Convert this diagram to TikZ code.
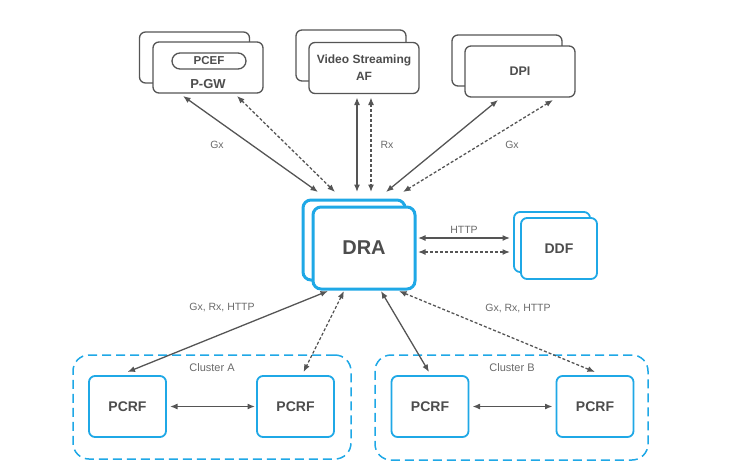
\documentclass[tikz,border=0pt]{standalone}
\usepackage{fontspec}
\setmainfont{Liberation Sans}
\usepackage{tikz}
\usetikzlibrary{arrows.meta}
\definecolor{draline}{HTML}{1FA8E6}
\definecolor{gline}{HTML}{555555}
\definecolor{gtext}{HTML}{4D4D4D}
\definecolor{ltext}{HTML}{6A6A6A}
\tikzset{
  gbox/.style={draw=gline, line width=1.3pt, fill=white, rounded corners=6pt,
    minimum width=110pt, minimum height=51pt, inner sep=0pt, outer sep=0pt},
  bbox/.style={draw=draline, line width=1.8pt, fill=white, rounded corners=6pt, inner sep=0pt, outer sep=0pt},
  cluster/.style={draw=draline, line width=1.5pt, dash pattern=on 9pt off 5pt,
    rounded corners=16pt, inner sep=0pt},
  boxtext/.style={text=gtext, font=\bfseries},
  lbl/.style={text=ltext, font=\fontsize{10.5}{12}\selectfont},
  link/.style={{Latex[length=7.5pt,width=6pt]}-{Latex[length=7.5pt,width=6pt]}, draw=gline, line width=1.3pt},
  linkd/.style={link, dash pattern=on 3pt off 2pt}
}
\begin{document}
\begin{tikzpicture}[x=1pt, y=-1pt]
        \useasboundingbox (0,0) rectangle (732,472);
        % top elements
        \node[gbox] (pgwb) at (194.5,57.5) {};
        \node[gbox] (pgw) at (208,67.5) {};
        \node[draw=gline, line width=1.3pt, rounded corners=8pt, minimum width=74pt, minimum height=16pt,
          inner sep=0pt, boxtext, font=\bfseries\fontsize{11.5}{12}\selectfont] (pcef) at (209,61) {PCEF};
        \node[boxtext, font=\bfseries\fontsize{13}{14}\selectfont] (pgwl) at (208,84) {P-GW};
        \node[gbox] (vidb) at (351,55.5) {};
        \node[gbox, boxtext, align=center, font=\bfseries\fontsize{12}{17}\selectfont] (vid) at (364,68) {Video Streaming\\AF};
        \node[gbox] (dpib) at (507,60.5) {};
        \node[gbox, boxtext, font=\bfseries\fontsize{12.5}{14}\selectfont] (dpi) at (520,71.5) {DPI};
        % DRA and DDF
        \node[bbox, line width=3pt, rounded corners=8pt, minimum width=102pt, minimum height=80pt] (drab) at (354,240) {};
        \node[bbox, line width=3pt, rounded corners=8pt, minimum width=102pt, minimum height=82pt,
          boxtext, font=\bfseries\fontsize{20}{22}\selectfont] (dra) at (364,248) {DRA};
        \node[bbox, minimum width=76pt, minimum height=60pt] (ddfb) at (552,242) {};
        \node[bbox, minimum width=76pt, minimum height=61pt, boxtext, font=\bfseries\fontsize{14}{16}\selectfont] (ddf) at (559,248.5) {DDF};
        % clusters
        \node[cluster, minimum width=278pt, minimum height=104pt] (clA) at (212,407) {};
        \node[cluster, minimum width=273pt, minimum height=105pt] (clB) at (511.5,407.5) {};
        \node[lbl, font=\fontsize{11}{12}\selectfont] (clAl) at (212,368) {Cluster A};
        \node[lbl, font=\fontsize{11}{12}\selectfont] (clBl) at (512,368) {Cluster B};
        \foreach \n/\x in {pA1/127.5, pA2/295.5, pB1/430, pB2/595}
          \node[bbox, minimum width=77pt, minimum height=61pt, boxtext, font=\bfseries\fontsize{14}{16}\selectfont] (\n) at (\x,406.5) {PCRF};
        % links to the top
        \draw[link] ([xshift=30pt,yshift=-3pt]pgw.south west) -- ([xshift=15pt,yshift=8pt]drab.north west);
        \draw[linkd] ([xshift=84pt,yshift=-3pt]pgw.south west) -- ([xshift=32pt,yshift=8pt]drab.north west);
        \draw[link] ([xshift=48pt,yshift=-4pt]vid.south west) -- ([xshift=54pt,yshift=8pt]drab.north west);
        \draw[linkd] ([xshift=62pt,yshift=-4pt]vid.south west) -- ([xshift=68pt,yshift=8pt]drab.north west);
        \draw[link] ([xshift=33pt,yshift=-3pt]dpi.south west) -- ([xshift=83pt,yshift=8pt]drab.north west);
        \draw[linkd] ([xshift=88pt,yshift=-3pt]dpi.south west) -- ([xshift=100pt,yshift=8pt]drab.north west);
        \node[lbl] (gx1) at (217,145) {Gx};
        \node[lbl] (rx) at (387,145) {Rx};
        \node[lbl] (gx2) at (512,145) {Gx};
        % DDF
        \draw[link] ([xshift=3pt,yshift=10pt]dra.east) -- node[lbl, above=1pt] (http) {HTTP} ([xshift=-4pt,yshift=4pt]ddfb.west);
        \draw[linkd] ([xshift=3pt,yshift=-4pt]dra.east) -- ([xshift=-4pt,yshift=-10pt]ddfb.west);
        % links to the clusters
        \draw[link] ([xshift=15pt,yshift=-2pt]dra.south west) -- ([yshift=4pt]pA1.north);
        \draw[linkd] ([xshift=31pt,yshift=-2pt]dra.south west) -- ([xshift=8pt,yshift=4pt]pA2.north);
        \draw[link] ([xshift=68pt,yshift=-2pt]dra.south west) -- ([xshift=-1pt,yshift=4pt]pB1.north);
        \draw[linkd] ([xshift=86pt,yshift=-2pt]dra.south west) -- ([yshift=4pt]pB2.north);
        \node[lbl] (l1) at (222,308) {Gx, Rx, HTTP};
        \node[lbl] (l2) at (518,309) {Gx, Rx, HTTP};
        \draw[link] ([xshift=4pt]pA1.east) -- ([xshift=-2pt]pA2.west);
        \draw[link] ([xshift=4pt]pB1.east) -- ([xshift=-4pt]pB2.west);
      \end{tikzpicture}
\end{document}
